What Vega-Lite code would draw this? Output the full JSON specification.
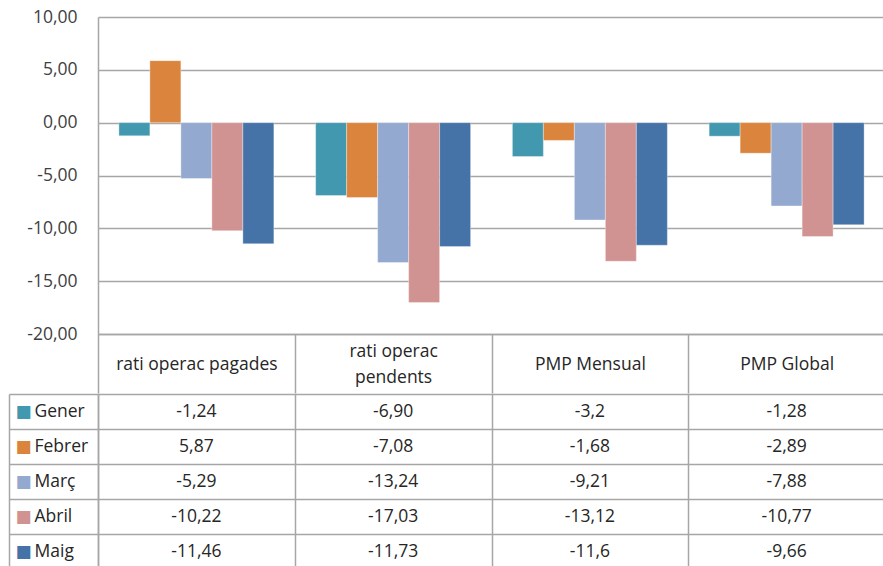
{
  "$schema": "https://vega.github.io/schema/vega-lite/v6.json",
  "padding": {"left": 8, "top": 8, "right": 0, "bottom": 0},
  "background": "white",
  "spacing": -10,
  "config": {
    "locale": {"number": {"decimal": ",", "thousands": ".", "grouping": [3], "currency": ["", " €"], "minus": "-"}},
    "view": {"stroke": null},
    "font": "Open Sans"
  },
  "data": {"values": [
    {"cat": "rati operac pagades", "series": "Gener", "value": -1.24, "txt": "-1,24"},
    {"cat": "rati operac pagades", "series": "Febrer", "value": 5.87, "txt": "5,87"},
    {"cat": "rati operac pagades", "series": "Març", "value": -5.29, "txt": "-5,29"},
    {"cat": "rati operac pagades", "series": "Abril", "value": -10.22, "txt": "-10,22"},
    {"cat": "rati operac pagades", "series": "Maig", "value": -11.46, "txt": "-11,46"},
    {"cat": "rati operac pendents", "series": "Gener", "value": -6.90, "txt": "-6,90"},
    {"cat": "rati operac pendents", "series": "Febrer", "value": -7.08, "txt": "-7,08"},
    {"cat": "rati operac pendents", "series": "Març", "value": -13.24, "txt": "-13,24"},
    {"cat": "rati operac pendents", "series": "Abril", "value": -17.03, "txt": "-17,03"},
    {"cat": "rati operac pendents", "series": "Maig", "value": -11.73, "txt": "-11,73"},
    {"cat": "PMP Mensual", "series": "Gener", "value": -3.2, "txt": "-3,2"},
    {"cat": "PMP Mensual", "series": "Febrer", "value": -1.68, "txt": "-1,68"},
    {"cat": "PMP Mensual", "series": "Març", "value": -9.21, "txt": "-9,21"},
    {"cat": "PMP Mensual", "series": "Abril", "value": -13.12, "txt": "-13,12"},
    {"cat": "PMP Mensual", "series": "Maig", "value": -11.6, "txt": "-11,6"},
    {"cat": "PMP Global", "series": "Gener", "value": -1.28, "txt": "-1,28"},
    {"cat": "PMP Global", "series": "Febrer", "value": -2.89, "txt": "-2,89"},
    {"cat": "PMP Global", "series": "Març", "value": -7.88, "txt": "-7,88"},
    {"cat": "PMP Global", "series": "Abril", "value": -10.77, "txt": "-10,77"},
    {"cat": "PMP Global", "series": "Maig", "value": -9.66, "txt": "-9,66"}
  ]},
  "vconcat": [
    {
      "width": 787,
      "height": 317,
      "mark": {"type": "bar", "stroke": "#ffffff", "strokeOpacity": 0.35, "strokeWidth": 1},
      "encoding": {
        "x": {
          "field": "cat", "type": "nominal",
          "sort": ["rati operac pagades", "rati operac pendents", "PMP Mensual", "PMP Global"],
          "scale": {"paddingInner": 0, "paddingOuter": 0},
          "axis": {
            "title": null, "orient": "bottom",
            "domain": true, "domainColor": "#A6A6A6", "domainWidth": 1.5,
            "ticks": true, "tickBand": "extent", "tickSize": 59, "tickColor": "#A6A6A6", "tickWidth": 1.5,
            "labelAngle": 0, "labelBaseline": "middle",
            "labelPadding": {"condition": {"test": "datum.value === 'rati operac pendents'", "value": -42}, "value": -29},
            "labelFont": "Open Sans", "labelFontSize": 17.5, "labelColor": "#262626", "labelLineHeight": 26,
            "labelLimit": 0,
            "minExtent": 59, "maxExtent": 59,
            "labelExpr": "datum.label == 'rati operac pendents' ? ['rati operac', 'pendents'] : datum.label"
          }
        },
        "xOffset": {
          "field": "series", "type": "nominal",
          "sort": ["Gener", "Febrer", "Març", "Abril", "Maig"],
          "scale": {"paddingInner": 0, "paddingOuter": 0.674}
        },
        "y": {
          "field": "value", "type": "quantitative",
          "scale": {"domain": [-20, 10], "nice": false},
          "axis": {
            "title": null, "values": [-20, -15, -10, -5, 0, 5, 10], "format": ".2f",
            "grid": true, "gridColor": "#A6A6A6", "gridWidth": 1.5,
            "domain": true, "domainColor": "#A6A6A6", "domainWidth": 1.5,
            "ticks": false, "labelPadding": 21,
            "labelFont": "Open Sans", "labelFontSize": 17.5, "labelColor": "#404040",
            "minExtent": 89, "maxExtent": 89
          }
        },
        "color": {
          "field": "series", "type": "nominal",
          "scale": {"domain": ["Gener", "Febrer", "Març", "Abril", "Maig"], "range": ["#4198AF", "#DB843D", "#93A9CF", "#D19392", "#4572A7"]},
          "legend": null
        }
      }
    },
    {
      "width": 787,
      "height": 175,
      "encoding": {
        "x": {
          "field": "cat", "type": "nominal",
          "sort": ["rati operac pagades", "rati operac pendents", "PMP Mensual", "PMP Global"],
          "scale": {"paddingInner": 0, "paddingOuter": 0},
          "axis": {
            "title": null, "orient": "bottom", "labels": false, "ticks": false, "domain": false,
            "grid": true, "tickBand": "extent", "gridColor": "#A6A6A6", "gridWidth": 1.5
          }
        },
        "y": {
          "field": "series", "type": "nominal",
          "sort": ["Gener", "Febrer", "Març", "Abril", "Maig"],
          "scale": {"paddingInner": 0, "paddingOuter": 0}
        }
      },
      "layer": [
        {
          "mark": {"type": "text", "font": "Open Sans", "fontSize": 17.5, "color": "#262626"},
          "encoding": {
            "text": {"field": "txt"},
            "y": {
              "field": "series", "type": "nominal",
              "sort": ["Gener", "Febrer", "Març", "Abril", "Maig"],
              "scale": {"paddingInner": 0, "paddingOuter": 0},
              "axis": {
                "title": null, "orient": "left",
                "domain": true, "domainColor": "#A6A6A6", "domainWidth": 1.5,
                "ticks": true, "tickBand": "extent", "tickSize": 89, "tickColor": "#A6A6A6", "tickWidth": 1.5,
                "grid": true, "gridColor": "#A6A6A6", "gridWidth": 1.5,
                "labelAlign": "left", "labelBaseline": "middle", "labelPadding": -25,
                "labelFont": "Open Sans", "labelFontSize": 17.5, "labelColor": "#262626",
                "minExtent": 89, "maxExtent": 89
              }
            }
          }
        },
        {
          "mark": {"type": "text", "opacity": 0},
          "encoding": {
            "text": {"field": "txt"},
            "y": {
              "field": "series", "type": "nominal",
              "sort": ["Gener", "Febrer", "Març", "Abril", "Maig"],
              "scale": {"paddingInner": 0, "paddingOuter": 0},
              "axis": {
                "title": null, "orient": "left", "offset": 89,
                "domain": true, "domainColor": "#A6A6A6", "domainWidth": 1.5,
                "ticks": false, "grid": false,
                "labelExpr": "'■'",
                "labelAlign": "left", "labelBaseline": "middle", "labelPadding": -6,
                "labelFont": "DejaVu Sans", "labelFontSize": 17,
                "labelColor": {
                  "condition": [
                    {"test": "datum.value === 'Gener'", "value": "#4198AF"},
                    {"test": "datum.value === 'Febrer'", "value": "#DB843D"},
                    {"test": "datum.value === 'Març'", "value": "#93A9CF"},
                    {"test": "datum.value === 'Abril'", "value": "#D19392"}
                  ],
                  "value": "#4572A7"
                }
              }
            }
          }
        }
      ],
      "resolve": {"axis": {"y": "independent"}}
    }
  ]
}
